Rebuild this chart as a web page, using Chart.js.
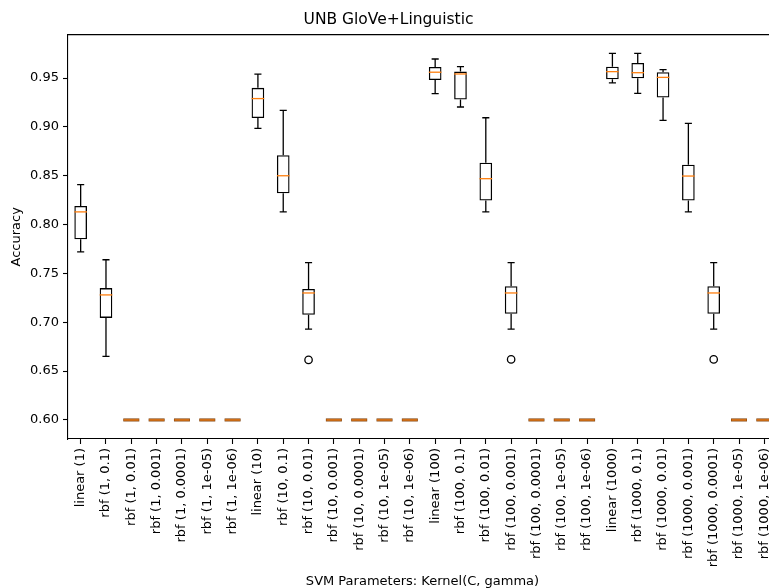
<!DOCTYPE html>
<html><head><meta charset="utf-8">
<script src="https://cdn.jsdelivr.net/npm/chart.js@4.4.0/dist/chart.umd.min.js"></script>
<style>html,body{margin:0;padding:0;overflow:hidden;background:#fff}</style>
</head><body>
<canvas id="c" width="790" height="588" style="display:block;width:790px;height:588px"></canvas>
<script>
const categories = [
  'linear (1)','rbf (1, 0.1)','rbf (1, 0.01)','rbf (1, 0.001)','rbf (1, 0.0001)','rbf (1, 1e-05)','rbf (1, 1e-06)',
  'linear (10)','rbf (10, 0.1)','rbf (10, 0.01)','rbf (10, 0.001)','rbf (10, 0.0001)','rbf (10, 1e-05)','rbf (10, 1e-06)',
  'linear (100)','rbf (100, 0.1)','rbf (100, 0.01)','rbf (100, 0.001)','rbf (100, 0.0001)','rbf (100, 1e-05)','rbf (100, 1e-06)',
  'linear (1000)','rbf (1000, 0.1)','rbf (1000, 0.01)','rbf (1000, 0.001)','rbf (1000, 0.0001)','rbf (1000, 1e-05)','rbf (1000, 1e-06)'
];
const whiskerLow = [0.772,0.665,0.6,0.6,0.6,0.6,0.6, 0.8985,0.813,0.693,0.6,0.6,0.6,0.6, 0.934,0.9204,0.813,0.693,0.6,0.6,0.6, 0.945,0.9344,0.9067,0.813,0.693,0.6,0.6];
const q1         = [0.785,0.7045,0.6,0.6,0.6,0.6,0.6, 0.909,0.832,0.7076,0.6,0.6,0.6,0.6, 0.948,0.928,0.8247,0.7086,0.6,0.6,0.6, 0.9487,0.9497,0.930,0.8247,0.7086,0.6,0.6];
const medians    = [0.813,0.728,0.6,0.6,0.6,0.6,0.6, 0.929,0.850,0.730,0.6,0.6,0.6,0.6, 0.956,0.9542,0.847,0.730,0.6,0.6,0.6, 0.9566,0.9555,0.9507,0.8497,0.730,0.6,0.6];
const q3         = [0.819,0.735,0.6,0.6,0.6,0.6,0.6, 0.940,0.871,0.734,0.6,0.6,0.6,0.6, 0.9614,0.9566,0.8633,0.7369,0.6,0.6,0.6, 0.9617,0.9654,0.9559,0.8613,0.7369,0.6,0.6];
const whiskerHigh= [0.841,0.764,0.6,0.6,0.6,0.6,0.6, 0.954,0.917,0.761,0.6,0.6,0.6,0.6, 0.9695,0.9617,0.9094,0.761,0.6,0.6,0.6, 0.9753,0.9753,0.9586,0.9036,0.761,0.6,0.6];
const outliers   = [null,null,null,null,null,null,null, null,null,0.6615,null,null,null,null, null,null,null,0.662,null,null,null, null,null,null,null,0.662,null,null];
const yTicks = [0.60,0.65,0.70,0.75,0.80,0.85,0.90,0.95];

Chart.defaults.font.family = 'DejaVu Sans';
Chart.defaults.color = '#000';

const boxParts = {
  id: 'boxParts',
  afterDatasetsDraw(chart) {
    const x = chart.scales.x, y = chart.scales.y, ctx = chart.ctx;
    const step = x.getPixelForValue(1) - x.getPixelForValue(0);
    const half = step * 0.25, cap = step * 0.14;
    ctx.save();
    ctx.lineWidth = 1.3;
    categories.forEach((c, i) => {
      const cx = x.getPixelForValue(i);
      const yH = y.getPixelForValue(whiskerHigh[i]), yL = y.getPixelForValue(whiskerLow[i]);
      const y3 = y.getPixelForValue(q3[i]), y1 = y.getPixelForValue(q1[i]);
      const ym = y.getPixelForValue(medians[i]);
      if (whiskerHigh[i] !== whiskerLow[i]) {
        ctx.strokeStyle = '#000';
        ctx.lineWidth = 1.3;
        ctx.beginPath();
        ctx.moveTo(cx, y3); ctx.lineTo(cx, yH);
        ctx.moveTo(cx, y1); ctx.lineTo(cx, yL);
        ctx.moveTo(cx - cap, yH); ctx.lineTo(cx + cap, yH);
        ctx.moveTo(cx - cap, yL); ctx.lineTo(cx + cap, yL);
        ctx.stroke();
        ctx.strokeStyle = '#ff7f0e';
        ctx.beginPath();
        ctx.moveTo(cx - half, ym); ctx.lineTo(cx + half, ym);
        ctx.stroke();
      } else {
        ctx.lineWidth = 3;
        ctx.strokeStyle = '#7a3d08';
        ctx.beginPath();
        ctx.moveTo(cx - 8, ym); ctx.lineTo(cx + 8, ym);
        ctx.stroke();
        ctx.lineWidth = 1.6;
        ctx.strokeStyle = '#e0781a';
        ctx.beginPath();
        ctx.moveTo(cx - 7.5, ym); ctx.lineTo(cx + 7.5, ym);
        ctx.stroke();
      }
    });
    const a = chart.chartArea;
    ctx.lineWidth = 1.1;
    ctx.strokeStyle = '#000';
    ctx.beginPath();
    ctx.moveTo(a.left, a.top); ctx.lineTo(a.right, a.top); ctx.lineTo(a.right, a.bottom);
    ctx.stroke();
    ctx.restore();
  }
};

new Chart(document.getElementById('c'), {
  type: 'bar',
  data: {
    labels: categories,
    datasets: [
      {
        type: 'bar',
        data: q1.map((v, i) => [v, q3[i]]),
        backgroundColor: 'rgba(255,255,255,0)',
        borderColor: q1.map((v, i) => v === q3[i] ? 'rgba(0,0,0,0)' : '#000'),
        borderWidth: 1.3,
        borderSkipped: false,
        barPercentage: 0.5,
        categoryPercentage: 1.0,
        grouped: false
      },
      {
        type: 'line',
        data: outliers,
        showLine: false,
        pointRadius: 3.7,
        pointBorderWidth: 1.3,
        pointBorderColor: '#000',
        pointBackgroundColor: 'rgba(0,0,0,0)'
      }
    ]
  },
  options: {
    responsive: false,
    animation: false,
    layout: { padding: { left: 0, right: 13, top: 0, bottom: 0 } },
    plugins: {
      legend: { display: false },
      tooltip: { enabled: false },
      title: {
        display: true, text: 'UNB GloVe+Linguistic', color: '#000',
        font: { size: 15.5, weight: 'normal' }, padding: { top: 10.5, bottom: 5.5 }
      }
    },
    scales: {
      x: {
        type: 'category',
        offset: true,
        grid: { offset: false, drawOnChartArea: false, drawTicks: true, tickLength: 5, tickColor: '#000', tickWidth: 1.1 },
        border: { display: true, color: '#000', width: 1.1 },
        ticks: { autoSkip: false, minRotation: 90, maxRotation: 90, padding: 4, color: '#000', font: { size: 13 } },
        title: { display: true, text: 'SVM Parameters: Kernel(C, gamma)', color: '#000', font: { size: 13, lineHeight: 1.0 }, padding: { top: 0, bottom: 0 } },
        afterFit(s) { s.height = 149; }
      },
      y: {
        min: 0.5805, max: 0.9945,
        grid: { drawOnChartArea: false, drawTicks: true, tickLength: 5, tickColor: '#000', tickWidth: 1.1 },
        border: { display: true, color: '#000', width: 1.1 },
        ticks: { padding: 4, color: '#000', font: { size: 13 }, callback: v => Number(v).toFixed(2) },
        afterBuildTicks(s) { s.ticks = yTicks.map(v => ({ value: v })); },
        title: { display: true, text: 'Accuracy', color: '#000', font: { size: 13 }, padding: { top: 9, bottom: 0 } },
        afterFit(s) { s.width = 68; }
      }
    }
  },
  plugins: [boxParts]
});
</script>
</body></html>
